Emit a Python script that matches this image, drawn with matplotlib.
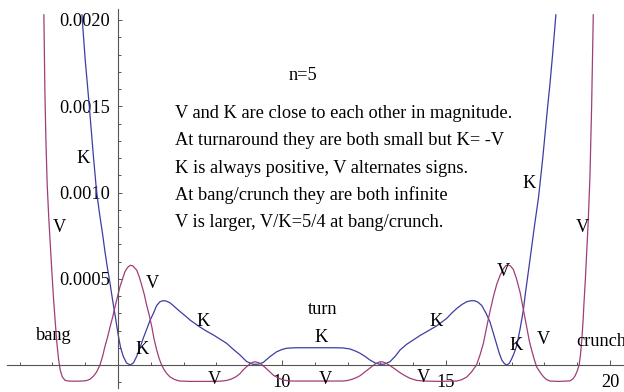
import matplotlib
matplotlib.use("Agg")
import matplotlib.pyplot as plt
from matplotlib.ticker import FixedLocator, NullFormatter

# ---------------- data ----------------
k_x = [3.90, 4.00, 4.125, 4.25, 4.35, 4.45, 4.53, 4.60, 4.68, 4.76, 4.84, 4.91,
       5.01, 5.08, 5.16, 5.26, 5.37, 5.47, 5.57, 5.67, 5.77, 5.88, 5.98, 6.08,
       6.18, 6.28, 6.38, 6.48, 6.59, 6.74, 6.89, 7.05, 7.20, 7.35, 7.50, 7.70,
       7.91, 8.11, 8.31, 8.52, 8.72, 8.92, 9.12, 9.28, 9.43, 9.63, 9.84, 10.0,
       10.14, 10.4, 10.75, 11.1, 11.56, 11.85, 12.07, 12.25, 12.38, 12.53, 12.68,
       12.84, 12.99, 13.12, 13.29, 13.45, 13.6, 13.8, 14.0, 14.2, 14.41, 14.71,
       15.02, 15.17, 15.33, 15.48, 15.63, 15.75, 15.86, 15.97, 16.09, 16.22,
       16.34, 16.45, 16.55, 16.62, 16.70, 16.78, 16.85, 16.93, 17.0, 17.08,
       17.16, 17.26, 17.36, 17.41, 17.56, 17.7, 17.82, 17.95, 18.02, 18.1,
       18.17, 18.25, 18.35]
k_y = [0.00203, 0.00177, 0.00150, 0.00121, 0.00100, 0.00086, 0.00076, 0.00066,
       0.00056, 0.00047, 0.00037, 0.00029, 0.00017, 0.00010, 0.00005, 0.000012,
       0.0, 0.000012, 0.00005, 0.00010, 0.000155, 0.00021, 0.00026, 0.00030,
       0.000345, 0.000367, 0.000373, 0.00037, 0.00036, 0.000335, 0.00031,
       0.000285, 0.00026, 0.00024, 0.00022, 0.000196, 0.000174, 0.00015,
       0.000126, 0.00009, 0.000058, 0.00002, 0.000004, 0.000005, 0.000015,
       0.000048, 0.000077, 0.00009, 0.000097, 0.0001, 0.0001, 0.0001, 0.0001,
       0.000099, 0.000093, 0.00008, 0.000068, 0.00005, 0.000029, 0.000012,
       0.000004, 0.000005, 0.000019, 0.00005, 0.000087, 0.00012, 0.000145,
       0.00017, 0.000193, 0.000226, 0.00027, 0.00030, 0.000328, 0.00035,
       0.000367, 0.000372, 0.000373, 0.000365, 0.000345, 0.00030, 0.00025,
       0.00018, 0.000116, 0.00007, 0.000029, 0.000008, 0.0, 0.00001, 0.000035,
       0.00007, 0.000116, 0.00021, 0.00032, 0.00040, 0.00061, 0.00081, 0.00097,
       0.00120, 0.00134, 0.00150, 0.00163, 0.00180, 0.00203]

v_x = [2.74, 2.77, 2.80, 2.84, 2.89, 2.94, 2.99, 3.04, 3.09, 3.14, 3.19, 3.24,
       3.30, 3.38, 3.48, 3.7, 3.9, 4.05, 4.15, 4.25, 4.35, 4.45, 4.53, 4.60,
       4.68, 4.76, 4.84, 4.91, 4.99, 5.06, 5.14, 5.21, 5.29, 5.37, 5.45, 5.57,
       5.65, 5.72, 5.80, 5.87, 5.95, 6.03, 6.10, 6.18, 6.25, 6.33, 6.40, 6.48,
       6.58, 6.69, 6.80, 6.89, 7.2, 7.5, 7.8, 8.1, 8.3, 8.45, 8.6, 8.72, 8.82,
       8.92, 9.02, 9.10, 9.18, 9.28, 9.38, 9.46, 9.53, 9.63, 9.73, 9.88, 10.04,
       10.2, 10.35, 11.1, 11.85, 12.0, 12.15, 12.28, 12.38, 12.53, 12.68, 12.84,
       12.99, 13.09, 13.19, 13.29, 13.45, 13.6, 13.75, 13.9, 14.1, 14.31, 14.8,
       15.33, 15.48, 15.63, 15.78, 15.93, 16.04, 16.14, 16.24, 16.34, 16.45,
       16.55, 16.65, 16.75, 16.82, 16.88, 16.96, 17.05, 17.15, 17.26, 17.36,
       17.46, 17.54, 17.61, 17.68, 17.76, 17.86, 17.97, 18.07, 18.17, 18.4,
       18.6, 18.78, 18.86, 18.93, 19.0, 19.06, 19.10, 19.14, 19.18, 19.21,
       19.25, 19.29, 19.34, 19.39, 19.44, 19.49]
v_y = [0.00203, 0.00160, 0.00132, 0.00105, 0.00085, 0.00068, 0.00052, 0.00037,
       0.00024, 0.00012, 0.00003, -0.00003, -0.000068, -0.000088, -0.000093,
       -0.000094, -0.000093, -0.00009, -0.000082, -0.000065, -0.00004, 0.0,
       0.00005, 0.000106, 0.00016, 0.000222, 0.00028, 0.000338, 0.00040,
       0.000454, 0.00050, 0.00054, 0.000565, 0.000578, 0.000575, 0.00055,
       0.00051, 0.000465, 0.00041, 0.00035, 0.00029, 0.000222, 0.00015,
       0.000087, 0.00004, 0.0, -0.000025, -0.000048, -0.000068, -0.000081,
       -0.000089, -0.000093, -0.000095, -0.000095, -0.000095, -0.000094,
       -0.00009, -0.000082, -0.000068, -0.00005, -0.000028, -0.00001, 0.000006,
       0.000015, 0.000019, 0.000014, 0.000003, -0.00001, -0.000022, -0.00004,
       -0.000058, -0.000075, -0.000087, -0.000092, -0.000093, -0.000093,
       -0.000093, -0.00009, -0.000082, -0.000072, -0.000062, -0.00004,
       -0.000018, 0.000006, 0.000019, 0.000017, 0.000008, -0.000003, -0.000024,
       -0.000045, -0.000062, -0.000077, -0.000089, -0.000093, -0.000095,
       -0.000093, -0.000085, -0.00007, -0.00004, 0.0, 0.00006, 0.000126,
       0.00022, 0.00031, 0.00040, 0.00047, 0.00052, 0.000558, 0.000575,
       0.00058, 0.000575, 0.000555, 0.00050, 0.00042, 0.00032, 0.00022,
       0.00014, 0.000087, 0.00004, -0.00001, -0.00004, -0.000068, -0.000085,
       -0.000093, -0.000095, -0.000094, -0.000092, -0.000082, -0.000065,
       -0.000035, 0.0, 0.00006, 0.000145, 0.00026, 0.00037, 0.00050, 0.00066,
       0.00085, 0.00110, 0.00150, 0.00203]

x_major = [10, 15, 20]
x_major_labels = ["10", "15", "20"]
x_minor = [2, 3, 4, 6, 7, 8, 9, 11, 12, 13, 14, 16, 17, 18, 19]
y_major = [0.0005, 0.0010, 0.0015, 0.0020]
y_major_labels = ["0.0005", "0.0010", "0.0015", "0.0020"]
y_minor = [-0.0001, 0.0001, 0.0002, 0.0003, 0.0004, 0.0006, 0.0007, 0.0008,
           0.0009, 0.0011, 0.0012, 0.0013, 0.0014, 0.0016, 0.0017, 0.0018, 0.0019]

title_text = "n=5"
note_lines = ["V and K are close to each other in magnitude.",
              "At turnaround they are both small but K= -V",
              "K is always positive, V alternates signs.",
              "At bang/crunch they are both infinite",
              "V is larger, V/K=5/4 at bang/crunch."]

# (label, pixel x, pixel y, alignment) of the curve annotations
curve_labels = [("K", 83, 159, "center"), ("V", 59, 227, "center"),
                ("bang", 54, 336, "center"), ("V", 152, 284, "center"),
                ("K", 142, 349, "center"), ("K", 203, 322, "center"),
                ("V", 214, 380, "center"), ("turn", 323, 309, "center"),
                ("K", 321, 337, "center"), ("V", 325, 380, "center"),
                ("K", 436, 322, "center"), ("V", 423, 377, "center"),
                ("V", 503, 272, "center"), ("K", 516, 346, "center"),
                ("V", 543, 340, "center"), ("crunch", 576.5, 342, "left"),
                ("K", 529, 183, "center"), ("V", 582, 228, "center")]

# ---------------- drawing ----------------
W, H = 624, 392
FONT = "Liberation Serif"
FS = 13.2
K_COLOR = "#3d3da3"
V_COLOR = "#a03d7a"
AX_COLOR = "#555555"

fig = plt.figure(figsize=(W / 100, H / 100), dpi=100)
ax = fig.add_axes([0, 0, 1, 1])
ax.patch.set_alpha(0)

# pixel mapping: x=5 at px 118, 32.8 px/unit ; y=0 at py 365, 172500 px/unit
ax.set_xlim(5 - 118 / 32.8, 5 + (W - 118) / 32.8)
ax.set_ylim((365 - H) / 172500, 365 / 172500)

ax.plot(k_x, k_y, color=K_COLOR, lw=0.9, solid_joinstyle="round")
ax.plot(v_x, v_y, color=V_COLOR, lw=0.9, solid_joinstyle="round")

for s in ["top", "right"]:
    ax.spines[s].set_visible(False)
ax.spines["left"].set_position(("data", 5))
ax.spines["bottom"].set_position(("data", 0))
ax.spines["left"].set_bounds(-0.000133, 0.002064)
ax.spines["bottom"].set_bounds(5 - 111 / 32.8, 5 + (W - 118) / 32.8)
for s in ["left", "bottom"]:
    ax.spines[s].set_color(AX_COLOR)
    ax.spines[s].set_linewidth(0.8)

ax.xaxis.set_major_locator(FixedLocator(x_major))
ax.xaxis.set_minor_locator(FixedLocator(x_minor))
ax.set_xticklabels(x_major_labels)
ax.yaxis.set_major_locator(FixedLocator(y_major))
ax.yaxis.set_minor_locator(FixedLocator(y_minor))
ax.set_yticklabels(y_major_labels)
ax.xaxis.set_minor_formatter(NullFormatter())
ax.yaxis.set_minor_formatter(NullFormatter())

ax.tick_params(axis="both", which="both", direction="in", color=AX_COLOR,
               width=0.7, labelsize=FS, labelcolor="black")
ax.tick_params(axis="x", which="major", length=3.6, pad=6.2)
ax.tick_params(axis="x", which="minor", length=2.0)
ax.tick_params(axis="y", which="major", length=3.0, pad=5.8)
ax.tick_params(axis="y", which="minor", length=1.8)
for lab in ax.get_xticklabels() + ax.get_yticklabels():
    lab.set_fontfamily(FONT)


def px(x, y):
    return x / W, 1 - y / H


fig.text(*px(303, 75), title_text, ha="center", va="center",
         fontfamily=FONT, fontsize=FS)
for i, line in enumerate(note_lines):
    fig.text(*px(175, 113.5 + 27.3 * i), line, ha="left", va="center",
             fontfamily=FONT, fontsize=FS)
for lab, x, y, ha in curve_labels:
    fig.text(*px(x, y), lab, ha=ha, va="center",
             fontfamily=FONT, fontsize=FS)

fig.savefig("out.png", dpi=100)
